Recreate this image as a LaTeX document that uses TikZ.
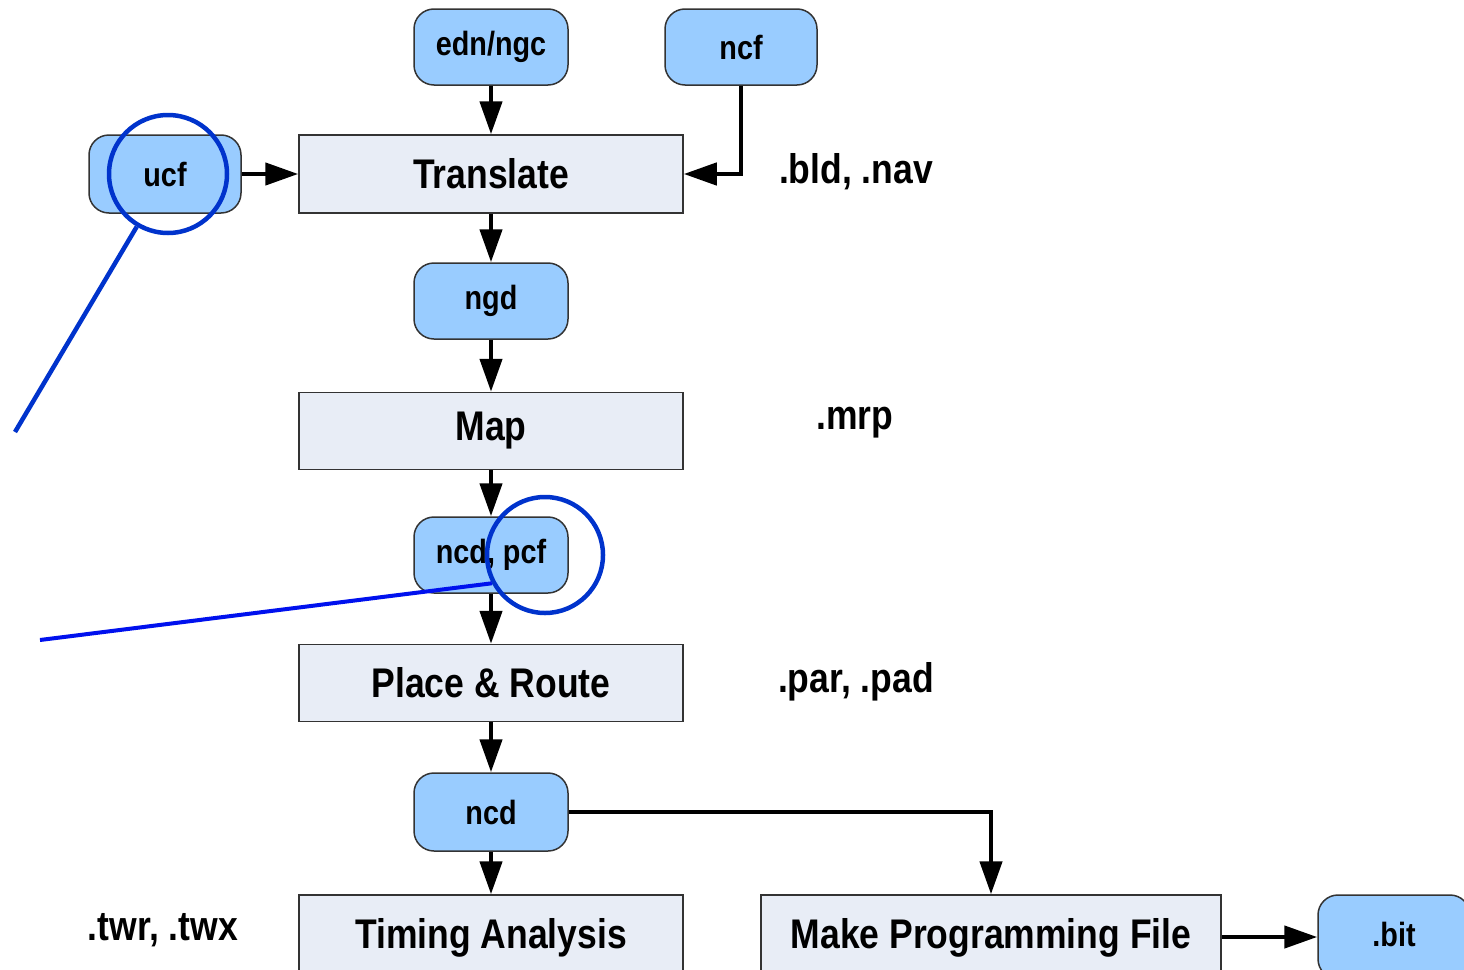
\documentclass[tikz,border=0pt]{standalone}
\usepackage{fontspec}
\setmainfont{Liberation Sans}
\usetikzlibrary{arrows.meta}
\definecolor{fileblue}{HTML}{99CCFF}
\definecolor{procfill}{HTML}{E8EDF6}
\definecolor{hlblue}{HTML}{0033CC}
\definecolor{hlline}{HTML}{0011EE}
\definecolor{edge}{HTML}{333333}
\newcommand{\tallt}[1]{\scalebox{0.96}[1.12]{#1}}
\begin{document}
\begin{tikzpicture}[x=1pt,y=-1pt,
  filebox/.style={draw=edge, line width=1.5pt, fill=fileblue, rounded corners=20pt,
    minimum width=154pt, minimum height=76pt, inner sep=0pt,
    font=\fontsize{30}{30}\selectfont\bfseries},
  procbox/.style={draw=edge, line width=1.5pt, fill=procfill,
    minimum width=384pt, minimum height=77pt, inner sep=0pt,
    font=\fontsize{37}{37}\selectfont\bfseries},
  lbl/.style={font=\fontsize{37}{37}\selectfont\bfseries, inner sep=0pt},
  flow/.style={line width=4.5pt, -{Triangle[length=33pt,width=22pt]}},
  hl/.style={draw=hlblue, line width=4.5pt}]
\clip (0,0) rectangle (1464,969);
\useasboundingbox (0,0) rectangle (1464,969);
% file nodes
\node[filebox] (edn) at (491,47) {\tallt{edn/ngc}};
\node[filebox, minimum width=152pt] (ncf) at (741,47) {\tallt{ncf}};
\node[filebox, minimum width=152pt, minimum height=78pt] (ucf) at (165,174) {\tallt{ucf}};
\node[filebox] (ngd) at (491,301) {\tallt{ngd}};
\node[filebox] (ncdpcf) at (491,555) {\tallt{ncd, pcf}};
\node[filebox, minimum height=78pt] (ncd) at (491,812) {\tallt{ncd}};
\node[filebox, minimum width=152pt, minimum height=84pt, text depth=6pt] (bit) at (1394,937) {\tallt{.bit}};
% process nodes
\node[procbox, minimum height=78pt] (tr) at (491,174) {\tallt{Translate}};
\node[procbox] (map) at (491,431) {\tallt{Map}};
\node[procbox] (pr) at (491,683) {\tallt{Place \& Route}};
\node[procbox, minimum height=84pt, text depth=8pt] (ta) at (491,937) {\tallt{Timing Analysis}};
\node[procbox, minimum width=460pt, minimum height=84pt, text depth=8pt] (mpf) at (991,937) {\tallt{Make Programming File}};
% output labels
\node[lbl] (bld) at (856,172) {\tallt{.bld, .nav}};
\node[lbl] (mrp) at (855,423) {\tallt{.mrp}};
\node[lbl] (par) at (856,682) {\tallt{.par, .pad}};
\node[lbl] (twr) at (163,930) {\tallt{.twr, .twx}};
% connectors
\draw[flow] (edn) -- (tr);
\draw[flow] (ucf) -- (tr);
\draw[flow] (ncf.south) |- (tr.east);
\draw[flow] (tr) -- (ngd);
\draw[flow] (ngd) -- (map);
\draw[flow] (map) -- (ncdpcf);
\draw[flow] (ncdpcf) -- (pr);
\draw[flow] (pr) -- (ncd);
\draw[flow] (ncd) -- (ta);
\draw[flow] (ncd.east) -| (mpf.north);
\draw[flow] (mpf) -- (bit);
% highlights
\node[hl, circle, minimum size=118pt, inner sep=0pt] (c1) at (168,174) {};
\coordinate (e1) at (15,432);
\draw[hl] (c1) -- (e1);
\node[hl, circle, minimum size=116pt, inner sep=0pt] (c2) at (545,555) {};
\coordinate (e2) at (40,640);
\draw[draw=hlline, line width=4pt] (c2.208) -- (e2);
\end{tikzpicture}
\end{document}
